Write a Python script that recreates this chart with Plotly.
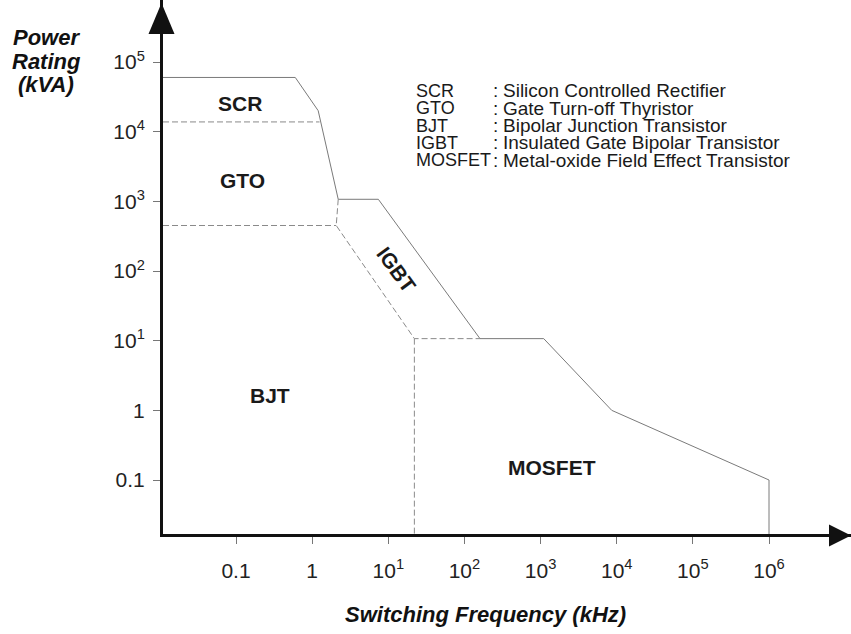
import numpy as np
import plotly.graph_objects as go

# ---------------- data (kHz, kVA) ----------------
# outer capability envelope (solid), from the power axis to the frequency axis
env_freq = [0.6, 1.2, 2.2, 7.4, 160, 1100, 8600, 1e6]
env_power = [6e4, 2e4, 1070, 1070, 10.7, 10.7, 1.0, 0.1]

# dashed boundaries between device regions
scr_gto_power = 1.38e4      # SCR / GTO boundary level
scr_gto_end_freq = 1.25
gto_bjt_power = 450         # GTO / BJT boundary level
gto_bjt_end_freq = 2.07
igbt_inner_freq = [2.2, 2.07, 22, 160]
igbt_inner_power = [1070, 450, 10.7, 10.7]
mosfet_left_freq = 22

# region labels
region_names = ["SCR", "GTO", "BJT", "IGBT", "MOSFET"]
label_freq = [0.113, 0.12, 0.28, 12.7, 1400]
label_power = [2.5e4, 2020, 1.66, 104, 0.15]

# axis ticks
x_tickvals = [0.1, 1, 10, 100, 1e3, 1e4, 1e5, 1e6]
x_ticktext = ["0.1", "1", "10<sup>1</sup>", "10<sup>2</sup>", "10<sup>3</sup>",
              "10<sup>4</sup>", "10<sup>5</sup>", "10<sup>6</sup>"]
y_tickvals = [0.1, 1, 10, 100, 1e3, 1e4, 1e5]
y_ticktext = ["0.1", "1", "10<sup>1</sup>", "10<sup>2</sup>", "10<sup>3</sup>",
              "10<sup>4</sup>", "10<sup>5</sup>"]

# legend of abbreviations
abbr = ["SCR", "GTO", "BJT", "IGBT", "MOSFET"]
meaning = ["Silicon Controlled Rectifier", "Gate Turn-off Thyristor",
           "Bipolar Junction Transistor", "Insulated Gate Bipolar Transistor",
           "Metal-oxide Field Effect Transistor"]

x_title = "Switching Frequency (kHz)"
y_title_lines = ["Power", "Rating", "(kVA)"]

# ---------------- layout geometry ----------------
W, H = 851, 634
ML, MB, MT, MR = 163, 100, 0, 0
PW, PH = W - ML - MR, H - MB - MT
x_range = [-1.959, 7.077]
y_range = [-1.775, 5.890]
x_min = 10 ** x_range[0]
y_min = 10 ** y_range[0]

def px(x):   # pixel -> paper x
    return (x - ML) / PW

def py(y):   # pixel -> paper y
    return (H - MB - y) / PH

FONT = "Liberation Sans, Arial, sans-serif"
solid = dict(color="#7a7a7a", width=1)
dashed = dict(color="#8a8a8a", width=1, dash="6px,3px")

fig = go.Figure()
fig.add_trace(go.Scatter(x=[x_min] + env_freq + [env_freq[-1]],
                         y=[env_power[0]] + env_power + [y_min],
                         mode="lines", line=solid, hoverinfo="skip"))
fig.add_trace(go.Scatter(x=[x_min, scr_gto_end_freq], y=[scr_gto_power, scr_gto_power],
                         mode="lines", line=dashed, hoverinfo="skip"))
fig.add_trace(go.Scatter(x=[x_min, gto_bjt_end_freq], y=[gto_bjt_power, gto_bjt_power],
                         mode="lines", line=dashed, hoverinfo="skip"))
fig.add_trace(go.Scatter(x=igbt_inner_freq, y=igbt_inner_power,
                         mode="lines", line=dashed, hoverinfo="skip"))
fig.add_trace(go.Scatter(x=[mosfet_left_freq, mosfet_left_freq], y=[igbt_inner_power[2], y_min],
                         mode="lines", line=dashed, hoverinfo="skip"))

annotations = []
for name, fx, fy in zip(region_names, label_freq, label_power):
    annotations.append(dict(
        x=np.log10(fx), y=np.log10(fy), xref="x", yref="y", text=name,
        showarrow=False, textangle=54 if name == "IGBT" else 0,
        font=dict(family=FONT, size=21, color="#1a1a1a", weight="bold")))

leg_y0, leg_dy = 91, 17.3
for i, (a, m) in enumerate(zip(abbr, meaning)):
    yy = py(leg_y0 + i * leg_dy)
    annotations.append(dict(x=px(414), y=yy, xref="paper", yref="paper", text=a,
                            showarrow=False, xanchor="left", yanchor="middle",
                            font=dict(family=FONT, size=18, color="#1a1a1a")))
    annotations.append(dict(x=px(491), y=yy, xref="paper", yref="paper", text=":",
                            showarrow=False, xanchor="left", yanchor="middle",
                            font=dict(family=FONT, size=19, color="#1a1a1a")))
    annotations.append(dict(x=px(501), y=yy, xref="paper", yref="paper", text=m,
                            showarrow=False, xanchor="left", yanchor="middle",
                            font=dict(family=FONT, size=19, color="#1a1a1a")))

for i, t in enumerate(y_title_lines):
    annotations.append(dict(x=px(46), y=py(38 + i * 23.5), xref="paper", yref="paper",
                            text=t, showarrow=False, xanchor="center", yanchor="middle",
                            font=dict(family=FONT, size=22, color="#111",
                                      weight="bold", style="italic")))
annotations.append(dict(x=px(485), y=py(614), xref="paper", yref="paper",
                        text=x_title, showarrow=False, xanchor="center", yanchor="middle",
                        font=dict(family=FONT, size=22, color="#111",
                                  weight="bold", style="italic")))

# arrow heads on the axes
ax_x, ax_y = 161.5, 535.5
shapes = [
    dict(type="path", xref="paper", yref="paper", layer="above",
         path=f"M {px(ax_x)},{py(3)} L {px(ax_x-13)},{py(34)} L {px(ax_x+13)},{py(34)} Z",
         fillcolor="#111", line=dict(width=0)),
    dict(type="path", xref="paper", yref="paper", layer="above",
         path=f"M {px(851)},{py(ax_y)} L {px(829)},{py(ax_y-11)} L {px(829)},{py(ax_y+11)} Z",
         fillcolor="#111", line=dict(width=0)),
]

fig.update_layout(
    width=W, height=H, margin=dict(l=ML, r=MR, t=MT, b=MB, pad=0),
    paper_bgcolor="white", plot_bgcolor="white", showlegend=False,
    annotations=annotations, shapes=shapes,
    xaxis=dict(type="log", range=x_range, showgrid=False, zeroline=False,
               showline=True, linewidth=3, linecolor="#111",
               ticks="outside", ticklen=7, tickwidth=1, tickcolor="#777",
               tickmode="array", tickvals=x_tickvals, ticktext=x_ticktext,
               tickfont=dict(family=FONT, size=21, color="#222"),
               ticklabelstandoff=9, fixedrange=True),
    yaxis=dict(type="log", range=y_range, showgrid=False, zeroline=False,
               showline=True, linewidth=3, linecolor="#111",
               ticks="outside", ticklen=7, tickwidth=1, tickcolor="#777",
               tickmode="array", tickvals=y_tickvals, ticktext=y_ticktext,
               tickfont=dict(family=FONT, size=21, color="#222"),
               ticklabelstandoff=4, fixedrange=True),
)

fig.write_html("out.html", config={"displayModeBar": False},
               post_script="document.body.style.margin='0';document.body.style.overflow='hidden';")
